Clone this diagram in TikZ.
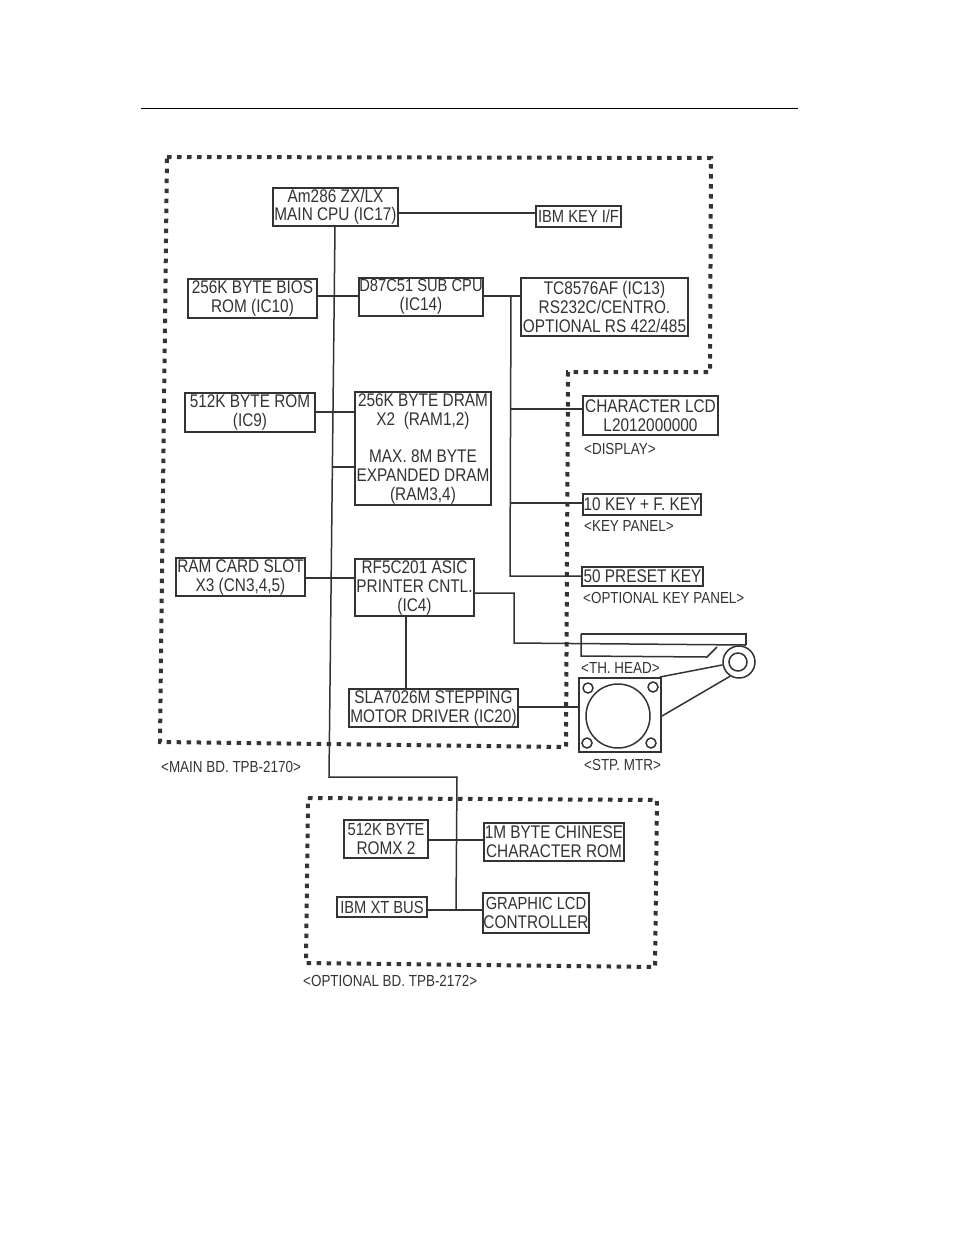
\documentclass[tikz,border=0pt]{standalone}
\usepackage{fontspec}
\setmainfont[FakeStretch=0.84]{Liberation Sans}
\definecolor{ink}{HTML}{333333}
\tikzset{
  bx/.style={draw=ink,line width=1.5pt,inner sep=0pt,align=center,text=ink,font=\fontsize{18.3}{19}\selectfont},
  wire/.style={draw=ink,line width=1.5pt},
  part/.style={draw=ink,line width=1.5pt},
  board/.style={draw=ink,line width=4pt,dash pattern=on 4.5pt off 5.5pt},
  tag/.style={anchor=west,inner sep=0pt,text=ink,font=\fontsize{16}{17}\selectfont}
}
\newcommand{\bxn}[6]{%
  \pgfmathsetmacro\bw{#4-#2}\pgfmathsetmacro\bh{#5-#3}%
  \pgfmathsetmacro\cxx{(#2+#4)/2}\pgfmathsetmacro\cyy{(#3+#5)/2}%
  \node[bx,minimum width=\bw pt,minimum height=\bh pt] (#1) at (\cxx,\cyy) {#6};}
\begin{document}
\begin{tikzpicture}[x=1pt,y=-1pt]
\useasboundingbox (0,0) rectangle (954,1235);
\fill[white] (0,0) rectangle (954,1235);
\draw[line width=0.9pt,black] (141,108) -- (798,108);
% boards
\draw[board] (167,157) -- (711,158) -- (710,372) -- (568,372) -- (566,747) -- (160,742) -- cycle;
\draw[board] (308,798) -- (657,800) -- (655,967) -- (306,963) -- cycle;
% boxes
\bxn{cpu}{273}{188}{398}{226}{\raisebox{-1pt}{Am286 ZX/LX}\\MAIN CPU (IC17)}
\bxn{ibm}{536}{206}{621}{227}{\fontsize{17.5}{19}\selectfont IBM KEY I/F}
\bxn{bios}{188}{279}{317}{318}{256K BYTE BIOS\\ROM (IC10)}
\bxn{sub}{359}{278}{483}{316}{\fontsize{17.5}{19}\selectfont D87C51 SUB CPU\\(IC14)}
\bxn{tc}{521}{278}{688}{336}{TC8576AF (IC13)\\RS232C/CENTRO.\\OPTIONAL RS 422/485}
\bxn{rom}{185}{393}{315}{432}{512K BYTE ROM\\(IC9)}
\bxn{dram}{355}{392}{491}{505}{256K BYTE DRAM\\X2\ \ (RAM1,2)\\[18pt]MAX. 8M BYTE\\EXPANDED DRAM\\(RAM3,4)}
\bxn{lcd}{583}{396}{718}{435}{CHARACTER LCD\\L2012000000}
\bxn{key}{583}{494}{701}{515}{10 KEY + F. KEY}
\bxn{preset}{582}{567}{703}{586}{50 PRESET KEY}
\bxn{card}{176}{558}{305}{596}{RAM CARD SLOT\\X3 (CN3,4,5)}
\bxn{asic}{355}{559}{474}{616}{RF5C201 ASIC\\PRINTER CNTL.\\(IC4)}
\bxn{sla}{349}{689}{518}{727}{SLA7026M STEPPING\\MOTOR DRIVER (IC20)}
\bxn{romx}{344}{820}{428}{858}{\fontsize{17.5}{19}\selectfont 512K BYTE\\ROMX 2}
\bxn{cjk}{484}{823}{624}{861}{1M BYTE CHINESE\\CHARACTER ROM}
\bxn{xt}{337}{897}{427}{917}{\fontsize{17.5}{19}\selectfont IBM XT BUS}
\bxn{glcd}{483}{893}{589}{933}{\fontsize{17.5}{19}\selectfont GRAPHIC LCD\\CONTROLLER}
% labels
\node[tag] (ldisp) at (584,449) {<DISPLAY>};
\node[tag] (lkey) at (584,526) {<KEY PANEL>};
\node[tag] (lopt) at (583,598) {<OPTIONAL KEY PANEL>};
\node[tag] (lhead) at (581,668) {<TH. HEAD>};
\node[tag] (lstp) at (584,765) {<STP. MTR>};
\node[tag] (lmain) at (161,767) {<MAIN BD. TPB-2170>};
\node[tag] (loptb) at (303,981) {<OPTIONAL BD. TPB-2172>};
% thermal head and motor
\coordinate (hl) at (581,644);
\coordinate (hr) at (746,645);
\draw[part] (581,634) -- (746,634) -- (hr);
\draw[part] (581,634) -- (581,656) -- (707,657) -- (717,647);
\node[part,circle,minimum size=32pt,inner sep=0pt] (roll) at (739,662) {};
\node[part,circle,minimum size=18pt,inner sep=0pt] (hub) at (738,662) {};
\node[part,rectangle,minimum size=0pt,inner sep=0pt,minimum width=82pt,minimum height=74pt] (motor) at (620,715) {};
\node[part,circle,minimum size=64pt,inner sep=0pt] (rotor) at (618,716) {};
\node[part,circle,minimum size=10pt,inner sep=0pt] (h1) at (588,688) {};
\node[part,circle,minimum size=10pt,inner sep=0pt] (h2) at (653,687) {};
\node[part,circle,minimum size=10pt,inner sep=0pt] (h3) at (587,743) {};
\node[part,circle,minimum size=10pt,inner sep=0pt] (h4) at (651,743) {};
\coordinate (b1) at (660,677);
\coordinate (b2) at (662,716);
\draw[part] (b1) -- (roll.190);
\draw[part] (b2) -- (roll.238);
% wires
\coordinate (j) at (329,777);
\coordinate (k) at (457,777);
\coordinate (m) at (456,910);
\coordinate (t) at (511,296);
\coordinate (u) at (510,576);
\draw[wire] (cpu.south -| 335,0) -- (j) -- (k) -- (m);
\draw[wire] (cpu.east |- 0,213) -- (ibm.west |- 0,213);
\draw[wire] (bios.east |- 0,296) -- (sub.west |- 0,296);
\draw[wire] (sub.east |- 0,296) -- (tc.west |- 0,296);
\draw[wire] (t) -- (u) -- (preset.west |- u);
\draw[wire] (511,409) -- (lcd.west |- 0,409);
\draw[wire] (510,503) -- (key.west |- 0,503);
\draw[wire] (rom.east |- 0,412) -- (dram.west |- 0,412);
\draw[wire] (333,467) -- (dram.west |- 0,467);
\draw[wire] (card.east |- 0,578) -- (asic.west |- 0,578);
\draw[wire] (asic.east |- 0,593) -- (514,593) -- (514,643) -- (hr);
\draw[wire] (asic.south -| 406,0) -- (sla.north -| 406,0);
\draw[wire] (sla.east |- 0,707) -- (motor.west |- 0,707);
\draw[wire] (romx.east |- 0,840) -- (cjk.west |- 0,840);
\draw[wire] (xt.east |- 0,910) -- (glcd.west |- 0,910);
\end{tikzpicture}
\end{document}
